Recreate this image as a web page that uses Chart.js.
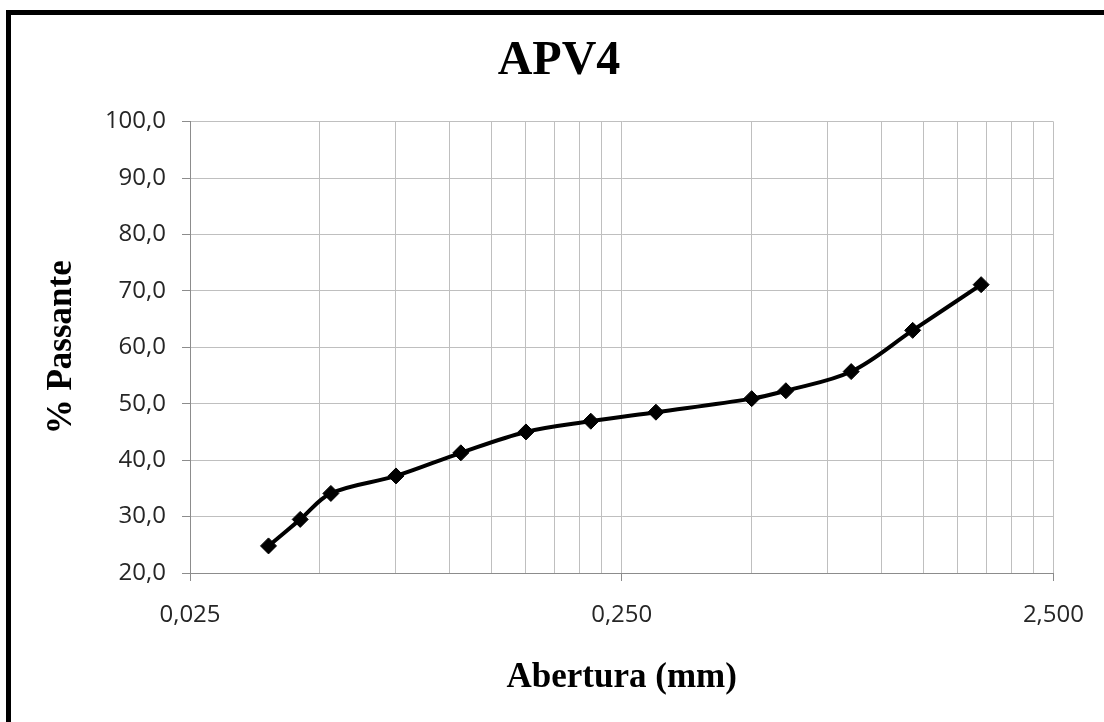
<!DOCTYPE html>
<html>
<head>
<meta charset="utf-8">
<title>APV4</title>
<script src="https://cdn.jsdelivr.net/npm/chart.js@4"></script>
<style>
    html, body { margin: 0; padding: 0; background: #fff; overflow: hidden; }
    #wrap { position: relative; width: 1104px; height: 722px; }
    #frame {
        position: absolute; left: 6px; top: 10px; width: 1200px; height: 800px;
        border-left: 5px solid #000; border-top: 5px solid #000;
        pointer-events: none;
    }
    canvas { position: absolute; left: 0; top: 0; }
</style>
</head>
<body>
<div id="wrap">
    <canvas id="grafico" width="1104" height="722"></canvas>
    <div id="frame"></div>
</div>
<script>
// Abertura das peneiras (mm) e % passante
const aberturas = [0.038, 0.045, 0.053, 0.075, 0.106, 0.150, 0.212, 0.300, 0.500, 0.600, 0.850, 1.18, 1.70];
const passante  = [24.8, 29.5, 34.1, 37.2, 41.3, 45.0, 46.9, 48.5, 50.9, 52.3, 55.7, 63.0, 71.1];

// linhas de grade do eixo x (escala log) e os valores com rótulo
const gradeX = [0.025, 0.05, 0.075, 0.1, 0.125, 0.15, 0.175, 0.2, 0.225,
                0.25, 0.5, 0.75, 1.0, 1.25, 1.5, 1.75, 2.0, 2.25, 2.5];
const rotulosX = [0.025, 0.25, 2.5];

const serif = "'Liberation Serif', 'Times New Roman', serif";
const sans = "'Open Sans', 'DejaVu Sans', sans-serif";

function initChart() {
    const ctx = document.getElementById('grafico').getContext('2d');

    new Chart(ctx, {
        type: 'scatter',
        data: {
            datasets: [{
                data: aberturas.map((x, i) => ({ x: x, y: passante[i] })),
                showLine: true,
                borderColor: '#000',
                borderWidth: 4,
                tension: 0.35,
                pointStyle: 'rectRot',
                pointRadius: 8,
                pointBackgroundColor: '#000',
                pointBorderColor: '#000',
                pointBorderWidth: 1
            }]
        },
        options: {
            responsive: false,
            animation: false,
            layout: { padding: { left: 14, right: 0, top: 10, bottom: 0 } },
            plugins: {
                legend: { display: false },
                tooltip: { enabled: false },
                title: {
                    display: true,
                    text: 'APV4',
                    color: '#000',
                    font: { family: serif, size: 48, weight: 'bold' },
                    padding: { top: 23, bottom: 31 }
                }
            },
            scales: {
                x: {
                    type: 'logarithmic',
                    min: 0.025,
                    max: 2.5,
                    afterBuildTicks: (scale) => {
                        scale.ticks = gradeX.map(v => ({ value: v }));
                    },
                    afterFit: (scale) => { scale.height = 149; },
                    grid: {
                        color: '#bfbfbf',
                        lineWidth: 1,
                        tickLength: 8,
                        tickColor: (c) => (c.tick && rotulosX.includes(c.tick.value)) ? '#8c8c8c' : 'rgba(0,0,0,0)'
                    },
                    border: { color: '#8c8c8c', width: 1 },
                    ticks: {
                        autoSkip: false,
                        maxRotation: 0,
                        padding: 20,
                        color: '#262626',
                        font: { family: sans, size: 24 },
                        callback: (v) => rotulosX.includes(v) ? v.toFixed(3).replace('.', ',') : ''
                    },
                    title: {
                        display: true,
                        text: 'Abertura (mm)',
                        color: '#000',
                        font: { family: serif, size: 35, weight: 'bold' },
                        padding: { top: 0, bottom: 23 }
                    }
                },
                y: {
                    min: 20,
                    max: 100,
                    afterFit: (scale) => { scale.width = 176; },
                    grid: { color: '#bfbfbf', lineWidth: 1, tickLength: 8, tickColor: '#8c8c8c' },
                    border: { color: '#8c8c8c', width: 1 },
                    ticks: {
                        stepSize: 10,
                        padding: 16,
                        color: '#262626',
                        font: { family: sans, size: 24 },
                        callback: (v) => v.toFixed(1).replace('.', ',')
                    },
                    title: {
                        display: true,
                        text: '% Passante',
                        color: '#000',
                        font: { family: serif, size: 35, weight: 'bold' },
                        padding: { top: 27, bottom: 0 }
                    }
                },
                // eixo vazio só para reservar a margem direita
                margem: {
                    axis: 'y',
                    position: 'right',
                    afterFit: (scale) => { scale.width = 50; },
                    grid: { display: false, drawTicks: false },
                    border: { display: false },
                    ticks: { display: false }
                }
            }
        }
    });
}

document.addEventListener('DOMContentLoaded', initChart);
</script>
</body>
</html>
